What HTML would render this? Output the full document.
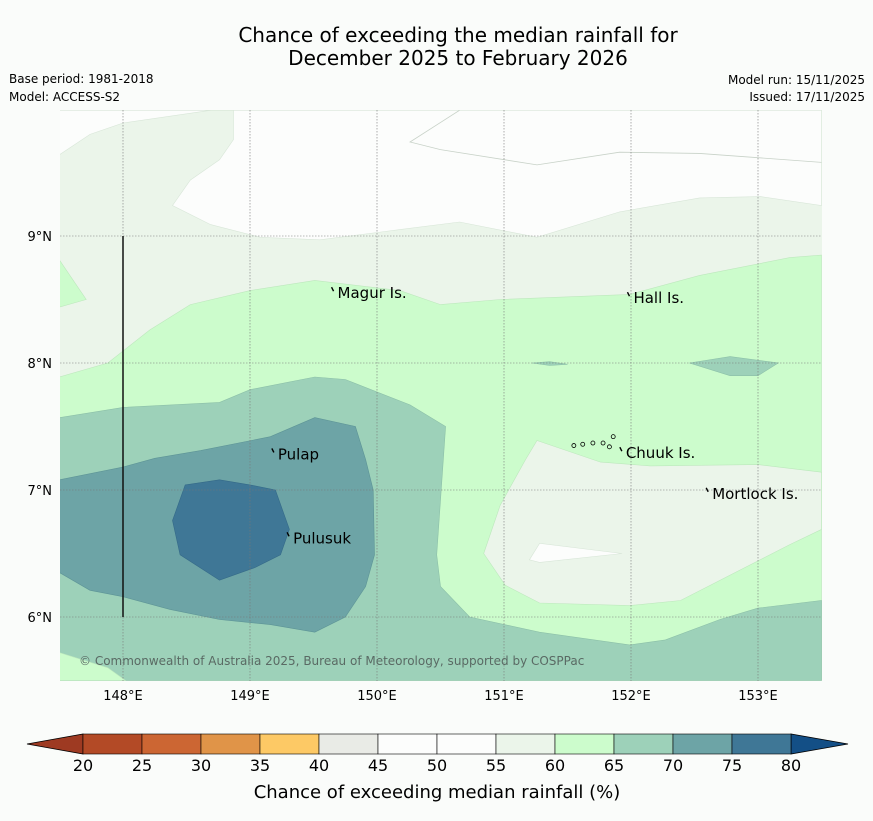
<!DOCTYPE html>
<html><head><meta charset="utf-8"><style>
body{margin:0;background:#fafcfa;font-family:"Liberation Sans","DejaVu Sans",sans-serif;}
svg text{font-family:"DejaVu Sans","Liberation Sans",sans-serif;}
</style></head><body>
<svg id="c" width="873" height="816" viewBox="0 0 873 816">
<rect width="873" height="816" fill="#fafcfa"/>
<text x="458" y="42" font-size="20" text-anchor="middle">Chance of exceeding the median rainfall for</text>
<text x="458" y="65" font-size="20" text-anchor="middle">December 2025 to February 2026</text>
<text x="9" y="83" font-size="12">Base period: 1981-2018</text>
<text x="9" y="101" font-size="12">Model: ACCESS-S2</text>
<text x="865" y="84" font-size="12" text-anchor="end">Model run: 15/11/2025</text>
<text x="865" y="101" font-size="12" text-anchor="end">Issued: 17/11/2025</text>
<g id="map"></g>
<g id="cbar"></g>
<text x="437" y="798" font-size="18" text-anchor="middle">Chance of exceeding median rainfall (%)</text>
</svg>
<script>
const NS="http://www.w3.org/2000/svg";
const lonTicks=[148,149,150,151,152,153];
const latTicks=[9,8,7,6];
const cbLevels=[20,25,30,35,40,45,50,55,60,65,70,75,80];
const cbColors=["#b34a26","#cc6633","#e09448","#fdc965","#e9ebe6","#fcfdfc","#fcfdfc","#ebf5ea","#ccfccc","#9dd1b9","#6da4a6","#3f7796"];
const white5055=[[147.5,9.99],[153.5,9.99],[153.5,9.24],[153.02,9.31],[152.54,9.30],[151.91,9.19],[151.26,8.99],[150.65,9.11],[150.18,9.05],[149.55,8.97],[149.08,8.99],[148.69,9.09],[148.39,9.24],[148.53,9.44],[148.76,9.60],[148.87,9.76],[148.87,9.99]];
const topLeftBlob=[[147.5,9.99],[147.5,9.64],[147.74,9.80],[148,9.89],[148.69,9.99]];
const green6065Main=[[147.5,7.89],[147.88,8.00],[148.21,8.26],[148.53,8.46],[149,8.57],[149.51,8.65],[150.18,8.57],[150.50,8.46],[150.97,8.50],[151.99,8.54],[152.54,8.69],[153.25,8.83],[153.5,8.85],[153.5,5.5],[147.5,5.5]];
const greenLeftPatch=[[147.5,8.81],[147.71,8.50],[147.5,8.44]];
const light5560Right=[[151.26,7.39],[151.76,7.22],[152.15,7.19],[153,7.20],[153.5,7.14],[153.5,6.69],[153.25,6.57],[152.78,6.33],[152.39,6.13],[151.99,6.09],[151.28,6.11],[151.01,6.25],[150.84,6.50],[150.97,6.88],[151.17,7.24]];
const white5055Inner=[[151.20,6.45],[151.28,6.58],[151.93,6.50],[151.28,6.43]];
const teal6570=[[147.5,7.57],[148,7.65],[148.76,7.69],[149,7.79],[149.51,7.89],[149.75,7.87],[150.26,7.67],[150.54,7.50],[150.47,6.49],[150.50,6.24],[150.73,6.00],[151.28,5.88],[151.99,5.78],[152.27,5.82],[152.70,5.98],[153,6.07],[153.5,6.13],[153.5,5.5],[147.5,5.5]];
const tealPatchA=[[152.46,8.00],[152.78,8.05],[153.16,8.00],[153,7.90],[152.78,7.90]];
const tealPatchB=[[151.22,8.00],[151.36,8.01],[151.50,7.99],[151.36,7.98]];
const green6065BottomLeft=[[147.5,5.72],[147.88,5.60],[148.02,5.50],[147.5,5.5]];
const blue7075=[[147.5,7.08],[148,7.18],[148.25,7.25],[148.61,7.31],[149.16,7.42],[149.51,7.57],[149.83,7.50],[149.91,7.24],[149.97,7.00],[149.98,6.49],[149.91,6.24],[149.75,6.00],[149.51,5.88],[149.16,5.94],[148.76,5.98],[148.37,6.06],[148,6.16],[147.74,6.21],[147.5,6.35]];
const dark7580=[[148.49,7.04],[148.76,7.08],[149,7.04],[149.20,7.00],[149.31,6.69],[149.24,6.49],[149.04,6.39],[148.76,6.29],[148.45,6.49],[148.39,6.76]];
const places=[["Magur Is.",149.65,8.55],["Hall Is.",151.98,8.51],["Pulap",149.18,7.28],["Chuuk Is.",151.92,7.29],["Mortlock Is.",152.60,6.97],["Pulusuk",149.30,6.62]];
const X=lon=>123+(lon-148)*127, Y=lat=>236+(9-lat)*127;
const map=document.getElementById('map');
function poly(pts,fill,stroke,name){const p=document.createElementNS(NS,'polygon');
p.setAttribute('points',pts.map(q=>X(q[0]).toFixed(1)+','+Y(q[1]).toFixed(1)).join(' '));
p.setAttribute('fill',fill);p.setAttribute('stroke',stroke||'none');p.setAttribute('stroke-width','0.6');


map.appendChild(p);}
const cp=document.createElementNS(NS,'clipPath');cp.id='mc';const cr=document.createElementNS(NS,'rect');
cr.setAttribute('x',60);cr.setAttribute('y',110);cr.setAttribute('width',762);cr.setAttribute('height',571);cp.appendChild(cr);map.appendChild(cp);
map.setAttribute('clip-path','url(#mc)');
const bg=document.createElementNS(NS,'rect');bg.setAttribute('x',60);bg.setAttribute('y',110);bg.setAttribute('width',762);bg.setAttribute('height',571);bg.setAttribute('fill','#ebf5ea');


map.appendChild(bg);
poly(white5055,'#fcfdfc','#d8e6d8','contour-50-55');
poly(topLeftBlob,'#fcfdfc','#d8e6d8','contour-50-55-topleft');
poly(green6065Main,'#ccfccc','#bde8bd','contour-60-65');
poly(greenLeftPatch,'#ccfccc','#bde8bd','contour-60-65-left');
poly(light5560Right,'#ebf5ea','#bde8bd','contour-55-60-east');
poly(white5055Inner,'#fcfdfc','#d8e6d8','contour-50-55-inner');
poly(teal6570,'#9dd1b9','#8cc0a8','contour-65-70');
poly(tealPatchA,'#9dd1b9','#8cc0a8','contour-65-70-patch-east');
poly(tealPatchB,'#9dd1b9','#8cc0a8','contour-65-70-patch-mid');
poly(green6065BottomLeft,'#ccfccc','#bde8bd','contour-60-65-bottomleft');
poly(blue7075,'#6da4a6','#5d9496','contour-70-75');
poly(dark7580,'#3f7796','#356a88','contour-75-80');
const l50=document.createElementNS(NS,'polyline');
l50.setAttribute('points',[[150.65,9.99],[150.26,9.74],[150.50,9.68],[151.26,9.56],[151.91,9.66],[152.54,9.65],[153.5,9.58]].map(q=>X(q[0])+','+Y(q[1])).join(' '));
l50.setAttribute('fill','none');l50.setAttribute('stroke','#c8d2c8');l50.setAttribute('stroke-width','0.8');


map.appendChild(l50);
lonTicks.forEach(v=>{const l=document.createElementNS(NS,'line');l.setAttribute('x1',X(v));l.setAttribute('x2',X(v));l.setAttribute('y1',110);l.setAttribute('y2',681);
l.setAttribute('stroke','#777');l.setAttribute('stroke-width','0.6');l.setAttribute('stroke-dasharray','1.5,1.5');


map.appendChild(l);
const t=document.createElementNS(NS,'text');t.setAttribute('x',X(v));t.setAttribute('y',700);t.setAttribute('font-size','13');t.setAttribute('text-anchor','middle');t.textContent=v+'°E';


document.getElementById('c').appendChild(t);});
latTicks.forEach(v=>{const l=document.createElementNS(NS,'line');l.setAttribute('y1',Y(v));l.setAttribute('y2',Y(v));l.setAttribute('x1',60);l.setAttribute('x2',822);
l.setAttribute('stroke','#777');l.setAttribute('stroke-width','0.6');l.setAttribute('stroke-dasharray','1.5,1.5');


map.appendChild(l);
const t=document.createElementNS(NS,'text');t.setAttribute('x',52);t.setAttribute('y',Y(v)+5);t.setAttribute('font-size','13');t.setAttribute('text-anchor','end');t.textContent=v+'°N';


document.getElementById('c').appendChild(t);});
const vl=document.createElementNS(NS,'line');vl.setAttribute('x1',X(148));vl.setAttribute('x2',X(148));vl.setAttribute('y1',Y(9));vl.setAttribute('y2',Y(6));vl.setAttribute('stroke','#111');vl.setAttribute('stroke-width','1.5');


map.appendChild(vl);
places.forEach(p=>{const t=document.createElementNS(NS,'text');t.setAttribute('x',X(p[1])+5);t.setAttribute('y',Y(p[2])+5);t.setAttribute('font-size','15');t.textContent=p[0];


map.appendChild(t);
const d=document.createElementNS(NS,'path');const x=X(p[1]),y=Y(p[2]);d.setAttribute('d',`M${x-1},${y-6} l2,4`);d.setAttribute('stroke','#000');d.setAttribute('fill','none');d.setAttribute('stroke-width','1.4');


map.appendChild(d);});
[[151.55,7.35],[151.62,7.36],[151.70,7.37],[151.78,7.37],[151.83,7.34],[151.86,7.42]].forEach(q=>{const c=document.createElementNS(NS,'circle');c.setAttribute('cx',X(q[0]));c.setAttribute('cy',Y(q[1]));c.setAttribute('r',2);c.setAttribute('fill','none');c.setAttribute('stroke','#000');c.setAttribute('stroke-width','0.8');


map.appendChild(c);});
const cpy=document.createElementNS(NS,'text');cpy.setAttribute('x',79);cpy.setAttribute('y',665);cpy.setAttribute('font-size','12');cpy.setAttribute('fill','#5a6a64');cpy.textContent='© Commonwealth of Australia 2025, Bureau of Meteorology, supported by COSPPac';


map.appendChild(cpy);
const cb=document.getElementById('cbar');const cx0=83,cw=59,cy=734,ch=20;
const lt=document.createElementNS(NS,'polygon');lt.setAttribute('points',`${cx0},${cy} ${cx0},${cy+ch} 27,${cy+ch/2}`);lt.setAttribute('fill','#9e3a22');lt.setAttribute('stroke','#000');lt.setAttribute('stroke-width','0.8');


cb.appendChild(lt);
const xe=cx0+cw*cbColors.length;
const rt=document.createElementNS(NS,'polygon');rt.setAttribute('points',`${xe},${cy} ${xe},${cy+ch} 848,${cy+ch/2}`);rt.setAttribute('fill','#134f86');rt.setAttribute('stroke','#000');rt.setAttribute('stroke-width','0.8');


cb.appendChild(rt);
cbColors.forEach((c,i)=>{const r=document.createElementNS(NS,'rect');r.setAttribute('x',cx0+i*cw);r.setAttribute('y',cy);r.setAttribute('width',cw);r.setAttribute('height',ch);r.setAttribute('fill',c);r.setAttribute('stroke','#000');r.setAttribute('stroke-width','0.6');


cb.appendChild(r);});
cbLevels.forEach((v,i)=>{const t=document.createElementNS(NS,'text');t.setAttribute('x',cx0+i*cw);t.setAttribute('y',771);t.setAttribute('font-size','16');t.setAttribute('text-anchor','middle');t.textContent=v;


cb.appendChild(t);});
</script>
</body></html>
